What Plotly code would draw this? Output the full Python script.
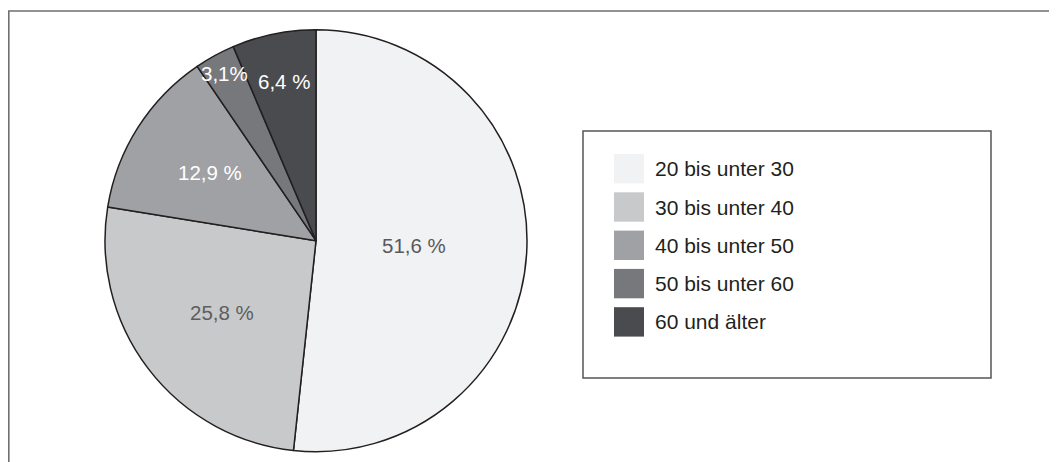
import math
import plotly.graph_objects as go

W, H = 1057, 462
# the page body adds an 8px margin around the figure; positions below are
# given in window pixels and converted to figure pixels
OFF = 8

labels = ["20 bis unter 30", "30 bis unter 40", "40 bis unter 50", "50 bis unter 60", "60 und älter"]
values = [51.6, 25.8, 12.9, 3.1, 6.4]
value_texts = ["51,6 %", "25,8 %", "12,9 %", "3,1%", "6,4 %"]
colors = ["#f1f2f4", "#c8c9cb", "#a0a1a4", "#77787c", "#4a4b4e"]
text_colors = ["#58595b", "#5d5e60", "#ffffff", "#ffffff", "#ffffff"]
label_radius = [0.467, 0.558, 0.598, 0.905, 0.769]  # label distance as share of pie radius

FONT = "Liberation Sans, Arial, sans-serif"


def px_x(v):
    return (v - OFF) / W


def px_y(v):
    return 1 - (v - OFF) / H


fig = go.Figure()

# pie: centre ~ (316, 240.7), radius ~211 px (window pixels)
cx, cy, r = 316, 240.7, 211
fig.add_trace(go.Pie(
    labels=labels,
    values=values,
    text=value_texts,
    textinfo="none",
    marker=dict(colors=colors, line=dict(color="#231f20", width=1.5)),
    sort=False,
    direction="clockwise",
    rotation=0,
    showlegend=False,
    hoverinfo="label+text",
    domain=dict(x=[px_x(cx - r), px_x(cx + r)], y=[px_y(cy + r), px_y(cy - r)]),
))

shapes = []
annotations = []

# slice value labels, placed on each slice's bisector (clockwise from 12 o'clock)
total = sum(values)
cum = 0.0
for v, t, tc, rf in zip(values, value_texts, text_colors, label_radius):
    ang = math.radians((cum + v / 2) / total * 360)
    cum += v
    lx = cx + rf * r * math.sin(ang)
    ly = cy - rf * r * math.cos(ang)
    annotations.append(dict(xref="paper", yref="paper", x=px_x(lx), y=px_y(ly),
                            xanchor="center", yanchor="middle", showarrow=False,
                            text=t, font=dict(family=FONT, size=20.5, color=tc)))

# outer frame (only top/left visible, it runs past the picture)
shapes.append(dict(type="rect", xref="paper", yref="paper",
                   x0=px_x(8.8), x1=px_x(W + 40), y0=px_y(H + 40), y1=px_y(11),
                   line=dict(color="#707070", width=1.6), fillcolor="rgba(0,0,0,0)", layer="below"))

# legend box
shapes.append(dict(type="rect", xref="paper", yref="paper",
                   x0=px_x(583), x1=px_x(991), y0=px_y(378), y1=px_y(131),
                   line=dict(color="#555555", width=1.5), fillcolor="white", layer="below"))

row0, row_step = 168.7, 38.3
for i, (lab, col) in enumerate(zip(labels, colors)):
    yc = row0 + i * row_step
    shapes.append(dict(type="rect", xref="paper", yref="paper",
                       x0=px_x(614), x1=px_x(644), y0=px_y(yc + 14.7), y1=px_y(yc - 14.7),
                       line=dict(width=0), fillcolor=col))
    annotations.append(dict(xref="paper", yref="paper", x=px_x(653), y=px_y(yc),
                            xanchor="left", yanchor="middle", showarrow=False,
                            text=lab, font=dict(family=FONT, size=21, color="#231f20")))

fig.update_layout(
    width=W, height=H,
    margin=dict(l=0, r=0, t=0, b=0),
    paper_bgcolor="white",
    plot_bgcolor="white",
    shapes=shapes,
    annotations=annotations,
    font=dict(family=FONT),
)

fig.write_html("out.html", config={"displayModeBar": False})
